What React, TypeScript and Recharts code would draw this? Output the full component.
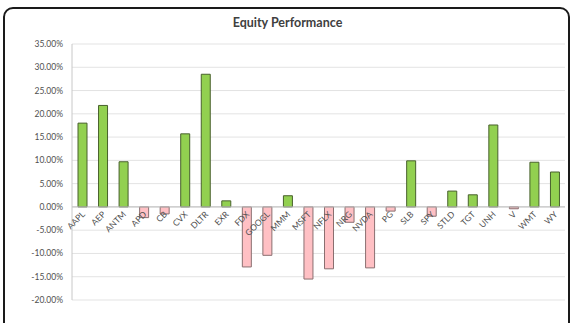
import React from "react";
import { BarChart, Bar, XAxis, YAxis, CartesianGrid, Cell, ReferenceLine, LabelList } from "recharts";

const tickers = ["AAPL","AEP","ANTM","APD","CB","CVX","DLTR","EXR","FDX","GOOGL","MMM","MSFT","NFLX","NRG","NVDA","PG","SLB","SPY","STLD","TGT","UNH","V","WMT","WY"];
const returns = [0.180,0.218,0.097,-0.023,-0.015,0.157,0.285,0.013,-0.129,-0.104,0.024,-0.155,-0.133,-0.033,-0.131,-0.009,0.099,-0.020,0.034,0.026,0.176,-0.004,0.096,0.075];
const yTicks = [-0.2,-0.15,-0.1,-0.05,0,0.05,0.1,0.15,0.2,0.25,0.3,0.35];

const data = tickers.map((t, i) => ({ name: t, value: returns[i] }));

const FONT = "Lato, 'Open Sans', sans-serif";

const CatLabel = (props: any) => {
  const { x, y, width, height, value, index } = props;
  const v = returns[index];
  const y1 = Number(y), y2 = Number(y) + Number(height);
  const zero = v >= 0 ? Math.max(y1, y2) : Math.min(y1, y2);
  const cx = Number(x) + Number(width) / 2 + 3;
  const cy = zero + 8;
  return (
    <text x={cx} y={cy} textAnchor="end" fontSize={8.5} fill="#505050" fontFamily={FONT}
      transform={`rotate(-45 ${cx} ${cy})`}>{value}</text>
  );
};

export default function App() {
  return (
    <div style={{ position: "absolute", left: 0, top: 0, width: 571, height: 323, background: "#fff", overflow: "hidden", fontFamily: FONT }}>
      <div style={{ position: "absolute", left: 3, top: 7, width: 563, height: 330, border: "2px solid #1a1a1a", borderRadius: 10 }} />
      <div style={{ position: "absolute", left: 4, width: 567, top: 15, textAlign: "center", fontSize: 12.5, fontWeight: 700, color: "#404040" }}>Equity Performance</div>
      <div style={{ position: "absolute", left: 0, top: 0 }}>
        <BarChart width={571} height={323} data={data} margin={{ top: 44, right: 6, bottom: 23, left: 0 }} barSize={9}>
          <CartesianGrid vertical={false} stroke="#e3e3e3" />
          <XAxis dataKey="name" hide />
          <YAxis width={72} domain={[-0.2, 0.35]} ticks={yTicks} interval={0} tickLine={false} tickSize={0} tickMargin={9}
            axisLine={{ stroke: "#c8c8c8" }}
            tick={{ fontSize: 8.5, fill: "#505050", fontFamily: FONT }}
            tickFormatter={(v: number) => (v * 100).toFixed(2) + "%"} />
          <Bar dataKey="value" isAnimationActive={false}>
            {data.map((d, i) => (
              <Cell key={i} fill={d.value >= 0 ? "#92D050" : "#FFC0C4"} stroke={d.value >= 0 ? "#48602c" : "#8a6f70"} strokeWidth={1} />
            ))}
            <LabelList dataKey="name" content={CatLabel} />
          </Bar>
          <ReferenceLine y={0} stroke="#bcbcbc" />
        </BarChart>
      </div>
    </div>
  );
}
